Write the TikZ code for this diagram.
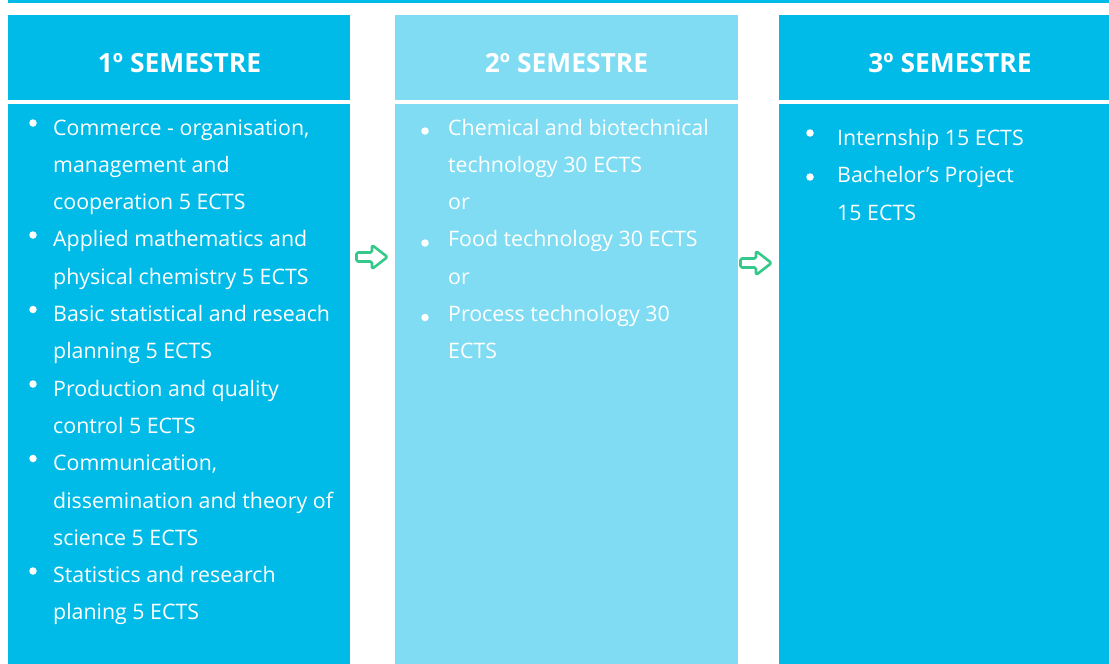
\documentclass[tikz,border=0pt]{standalone}
\usepackage{fontspec}
\setmainfont{Open Sans}
\definecolor{dcyan}{HTML}{00BBE7}
\definecolor{lcyan}{HTML}{80DCF2}
\definecolor{agreen}{HTML}{34C98B}
\tikzset{
  hdr/.style={font=\fontsize{26.4}{30}\selectfont\bfseries, text=white, anchor=base, inner sep=0pt},
  itm/.style={font=\fontsize{21.35}{26}\selectfont, text=white, anchor=base west, inner sep=0pt},
  bul/.style={circle, fill=white, inner sep=0pt, minimum size=7.5pt},
  arr/.style={draw=agreen, fill=white, line width=2.6pt, rounded corners=1.5pt, line join=round},
}
\begin{document}
\begin{tikzpicture}[x=1pt,y=-1pt]
\useasboundingbox (0,0) rectangle (1109,664);
% top line
\fill[dcyan] (8,0) rectangle (1109,3);
% columns
\fill[dcyan] (8,15) rectangle (350,100);
\fill[dcyan] (8,104) rectangle (350,664);
\fill[lcyan] (395,15) rectangle (738,100);
\fill[lcyan] (395,104) rectangle (738,664);
\fill[dcyan] (779,15) rectangle (1109,100);
\fill[dcyan] (779,104) rectangle (1109,664);
% headers
\node[hdr] (h1) at (179.5,72) {1º SEMESTRE};
\node[hdr] (h2) at (566.5,72) {2º SEMESTRE};
\node[hdr] (h3) at (950,72) {3º SEMESTRE};
% column 1
\node[bul] (b11) at (33,123) {};
\node[itm] (t1a) at (53,135) {Commerce - organisation,};
\node[itm] (t1b) at (53,172.3) {management and};
\node[itm] (t1c) at (53,209.6) {cooperation 5 ECTS};
\node[bul] (b12) at (33,235) {};
\node[itm] (t1d) at (53,246.9) {Applied mathematics and};
\node[itm] (t1e) at (53,284.2) {physical chemistry 5 ECTS};
\node[bul] (b13) at (33,309.5) {};
\node[itm] (t1f) at (53,321.5) {Basic statistical and reseach};
\node[itm] (t1g) at (53,358.8) {planning 5 ECTS};
\node[bul] (b14) at (33,384) {};
\node[itm] (t1h) at (53,396.1) {Production and quality};
\node[itm] (t1i) at (53,433.4) {control 5 ECTS};
\node[bul] (b15) at (33,458.5) {};
\node[itm] (t1j) at (53,470.7) {Communication,};
\node[itm] (t1k) at (53,508) {dissemination and theory of};
\node[itm] (t1l) at (53,545.3) {science 5 ECTS};
\node[bul] (b16) at (33,571) {};
\node[itm] (t1m) at (53,582.6) {Statistics and research};
\node[itm] (t1n) at (53,619.9) {planing 5 ECTS};
% column 2
\node[bul] (b21) at (425,131) {};
\node[itm] (t2a) at (448,135) {Chemical and biotechnical};
\node[itm] (t2b) at (448,172.3) {technology 30 ECTS};
\node[itm] (t2c) at (448,209.6) {or};
\node[bul] (b22) at (425,243) {};
\node[itm] (t2d) at (448,246.9) {Food technology 30 ECTS};
\node[itm] (t2e) at (448,284.2) {or};
\node[bul] (b23) at (425,317.5) {};
\node[itm] (t2f) at (448,321.5) {Process technology 30};
\node[itm] (t2g) at (448,358.8) {ECTS};
% column 3
\node[bul] (b31) at (810,133) {};
\node[itm] (t3a) at (837,145) {Internship 15 ECTS};
\node[bul] (b32) at (810,177) {};
\node[itm] (t3b) at (837,182.5) {Bachelor’s Project};
\node[itm] (t3c) at (837,220) {15 ECTS};
% arrows
\coordinate (a1) at (372,257);
\coordinate (a2) at (756,263);
\foreach \c in {a1,a2}{
  \draw[arr] ([shift={(-15.5,-4.5)}]\c) -- ([shift={(0,-4.5)}]\c) -- ([shift={(0,-12)}]\c)
    -- ([shift={(15.5,0)}]\c) -- ([shift={(0,12)}]\c) -- ([shift={(0,4.5)}]\c)
    -- ([shift={(-15.5,4.5)}]\c) -- cycle;
}
\end{tikzpicture}
\end{document}
